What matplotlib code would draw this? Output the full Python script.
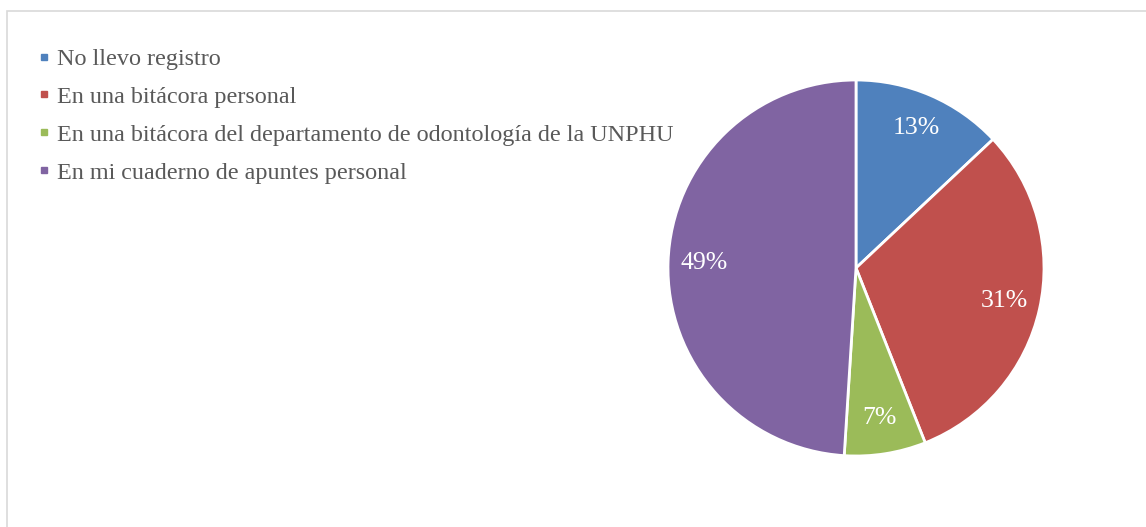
import matplotlib.pyplot as plt
from matplotlib.lines import Line2D
from matplotlib.patches import Rectangle

categorias = ['No llevo registro',
              'En una bitácora personal',
              'En una bitácora del departamento de odontología de la UNPHU',
              'En mi cuaderno de apuntes personal']
porcentajes = [13, 31, 7, 49]
colores = ['#4F81BD', '#C0504D', '#9BBB59', '#8064A2']

plt.rcParams['font.family'] = ['Liberation Serif', 'DejaVu Serif']

fig = plt.figure(figsize=(11.46, 5.27), dpi=100)
W, H = 1146, 527

# marco gris claro del grafico
fig.patches.append(Rectangle((7 / W, -0.1), 1.2, 1 - 11 / H + 0.1,
                             transform=fig.transFigure, fill=False,
                             edgecolor='#d9d9d9', linewidth=1.2))

# pie: centro (856, 268), radio 188 px
r = 188
ax = fig.add_axes([(856 - r) / W, 1 - (268 + r) / H, 2 * r / W, 2 * r / H])
wedges, texts, autotexts = ax.pie(
    porcentajes, colors=colores, startangle=90, counterclock=False,
    autopct='%d%%', pctdistance=0.81,
    wedgeprops=dict(edgecolor='white', linewidth=2),
    textprops=dict(color='white', fontsize=18.5))
ax.set_aspect('equal')
ax.set_xlim(-1, 1)
ax.set_ylim(-1, 1)

handles = [Line2D([], [], marker='s', linestyle='none', markersize=5,
                  markerfacecolor=c, markeredgecolor=c) for c in colores]
fig.legend(handles, categorias, loc='upper left',
           bbox_to_anchor=(27 / W, 1 - 36 / H), frameon=False,
           fontsize=17.4, labelcolor='#595959', handlelength=0.4,
           handletextpad=0.35, labelspacing=0.66, borderpad=0)

fig.savefig('out.png', dpi=100)
